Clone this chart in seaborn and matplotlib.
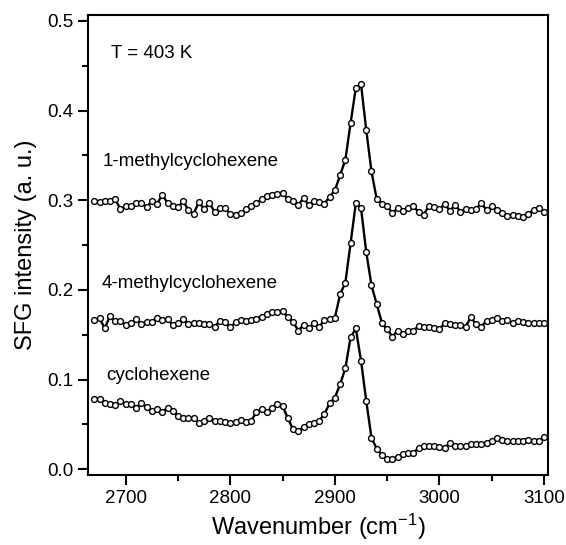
import matplotlib
matplotlib.use("Agg")
import matplotlib.pyplot as plt
import seaborn as sns
import pandas as pd
from matplotlib.ticker import MultipleLocator

wavenumber = list(range(2670, 3105, 5))

methyl1 = [0.2995, 0.298, 0.299, 0.299, 0.301, 0.290, 0.293, 0.293, 0.297, 0.297,
           0.292, 0.299, 0.296, 0.306, 0.297, 0.293, 0.292, 0.299, 0.289, 0.285,
           0.298, 0.290, 0.297, 0.287, 0.291, 0.291, 0.285, 0.284, 0.286, 0.290,
           0.294, 0.297, 0.301, 0.305, 0.306, 0.307, 0.308, 0.301, 0.299, 0.295,
           0.302, 0.295, 0.299, 0.298, 0.296, 0.304, 0.311, 0.328, 0.345, 0.386,
           0.425, 0.429, 0.378, 0.332, 0.301, 0.296, 0.293, 0.286, 0.291, 0.288,
           0.291, 0.293, 0.287, 0.284, 0.294, 0.292, 0.290, 0.296, 0.288, 0.295,
           0.287, 0.290, 0.289, 0.2905, 0.2965, 0.289, 0.293, 0.289, 0.286, 0.2825,
           0.2835, 0.2825, 0.281, 0.285, 0.289, 0.291, 0.2865]

methyl4 = [0.1665, 0.1683, 0.1572, 0.1709, 0.1657, 0.1653, 0.1609, 0.1628, 0.1672, 0.1616,
           0.1646, 0.1646, 0.169, 0.1665, 0.1672, 0.1609, 0.1628, 0.168, 0.1616, 0.1628,
           0.1628, 0.1616, 0.1616, 0.159, 0.1653, 0.1638, 0.1583, 0.1638, 0.1665, 0.1657,
           0.1665, 0.1676, 0.1702, 0.1731, 0.1757, 0.1757, 0.1765, 0.1694, 0.1646, 0.1545,
           0.161, 0.157, 0.163, 0.159, 0.166, 0.1675, 0.169, 0.195, 0.208, 0.252,
           0.2965, 0.291, 0.242, 0.205, 0.184, 0.163, 0.156, 0.148, 0.1545, 0.1508,
           0.1545, 0.1545, 0.1598, 0.159, 0.159, 0.158, 0.1564, 0.1627, 0.162, 0.1613,
           0.1605, 0.159, 0.1694, 0.1616, 0.159, 0.1657, 0.1664, 0.1687, 0.1657, 0.1664,
           0.1627, 0.1657, 0.1642, 0.1627, 0.1627, 0.1627, 0.1627]

cyclohexene = [0.0784, 0.0784, 0.0743, 0.0728, 0.0717, 0.0761, 0.0728, 0.0724, 0.0687, 0.0736,
               0.0698, 0.065, 0.0672, 0.0635, 0.0687, 0.0654, 0.0598, 0.0576, 0.0576, 0.0568,
               0.052, 0.0539, 0.0568, 0.0542, 0.0542, 0.0524, 0.052, 0.053, 0.055, 0.053,
               0.0542, 0.0635, 0.0669, 0.0642, 0.0687, 0.0724, 0.0709, 0.0568, 0.0446, 0.0427,
               0.047, 0.051, 0.052, 0.054, 0.0617, 0.0735, 0.080, 0.0948, 0.1126, 0.147,
               0.157, 0.121, 0.076, 0.035, 0.023, 0.016, 0.011, 0.0115, 0.014, 0.017,
               0.0185, 0.0185, 0.0234, 0.0263, 0.026, 0.0256, 0.0252, 0.024, 0.0297, 0.026,
               0.026, 0.026, 0.0278, 0.0278, 0.0278, 0.029, 0.0315, 0.0345, 0.0327, 0.0315,
               0.031, 0.031, 0.0315, 0.0327, 0.031, 0.031, 0.0364]

series_names = ["1-methylcyclohexene", "4-methylcyclohexene", "cyclohexene"]
series_values = [methyl1, methyl4, cyclohexene]
label_pos = [(2678, 0.343), (2677, 0.207), (2681, 0.105)]
annotation = "T = 403 K"

sns.set_style("ticks")
plt.rcParams["font.family"] = ["Liberation Sans", "DejaVu Sans"]
plt.rcParams["mathtext.default"] = "regular"
for key in ["text.color", "axes.labelcolor", "xtick.color", "ytick.color", "axes.edgecolor"]:
    plt.rcParams[key] = "black"

fig = plt.figure(figsize=(5.66, 5.45), dpi=100)
ax = fig.add_axes([0.1555, 0.1284, 0.8132, 0.8446])

for name, vals in zip(series_names, series_values):
    df = pd.DataFrame({"x": wavenumber, "y": vals})
    sns.lineplot(data=df, x="x", y="y", ax=ax, color="black", linewidth=1.7,
                 marker="o", markersize=4.2, markerfacecolor="white",
                 markeredgecolor="black", markeredgewidth=1.0, sort=False)

for name, (lx, ly) in zip(series_names, label_pos):
    ax.text(lx, ly, name, fontsize=13.5, va="center", ha="left", color="black")
ax.text(2686, 0.464, annotation, fontsize=13.5, va="center", ha="left", color="black")

ax.set_xlim(2664, 3104)
ax.set_ylim(-0.0064, 0.5068)
ax.xaxis.set_major_locator(MultipleLocator(100))
ax.xaxis.set_minor_locator(MultipleLocator(50))
ax.yaxis.set_major_locator(MultipleLocator(0.1))
ax.yaxis.set_minor_locator(MultipleLocator(0.05))
ax.yaxis.set_major_formatter(matplotlib.ticker.FormatStrFormatter("%.1f"))

ax.tick_params(which="major", direction="out", length=7, width=1.5, labelsize=13.5,
               top=False, right=False, colors="black")
ax.tick_params(which="minor", direction="out", length=4, width=1.5, top=False, right=False,
               colors="black")
for s in ax.spines.values():
    s.set_linewidth(1.5)
    s.set_color("black")

ax.set_xlabel("Wavenumber (cm$^{-1}$)", fontsize=17, labelpad=4, color="black")
ax.set_ylabel("SFG intensity (a. u.)", fontsize=17, labelpad=7, color="black")

fig.savefig("out.png", dpi=100)
